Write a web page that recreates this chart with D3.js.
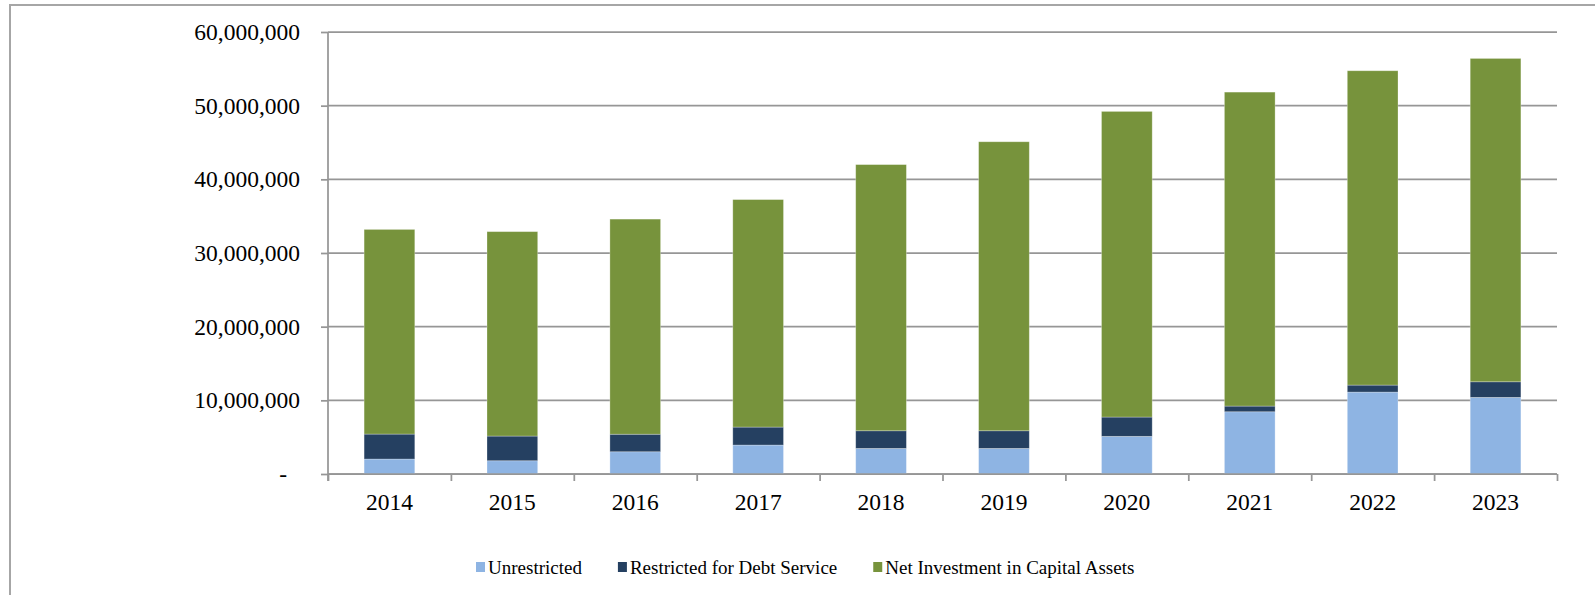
<!DOCTYPE html>
<html>
<head>
<meta charset="utf-8">
<script src="https://cdn.jsdelivr.net/npm/d3@7/dist/d3.min.js"></script>
<style>
  html, body { margin: 0; padding: 0; background: #ffffff; }
  svg { display: block; }
  text { font-family: "Liberation Serif", "Times New Roman", serif; fill: #000; }
</style>
</head>
<body>
<svg id="chart" width="1595" height="595"></svg>
<script>
// ---- data ----
const years = ["2014","2015","2016","2017","2018","2019","2020","2021","2022","2023"];
const unrestricted = [2030000, 1800000, 3020000, 3930000, 3470000, 3470000, 5110000, 8450000, 11120000, 10400000];
const restrictedDebt = [3390000, 3350000, 2380000, 2440000, 2400000, 2400000, 2620000, 770000, 950000, 2120000];
const netInvestment = [27780000, 27750000, 29200000, 30880000, 36130000, 39230000, 41490000, 42620000, 42670000, 43890000];
const seriesNames = ["Unrestricted", "Restricted for Debt Service", "Net Investment in Capital Assets"];
const seriesColors = ["#8EB4E3", "#254061", "#77933C"];
const yTicks = [0, 10000000, 20000000, 30000000, 40000000, 50000000, 60000000];

// ---- layout ----
const svg = d3.select("#chart");
const L = 328, R = 1557, T = 32, B = 474;

// outer frame (only top and left visible)
svg.append("rect").attr("x", 10).attr("y", 5).attr("width", 1620).attr("height", 640)
  .attr("fill", "none").attr("stroke", "#a6a6a6").attr("stroke-width", 2);

const y = d3.scaleLinear().domain([0, 60000000]).range([B, T]);
const x = d3.scaleBand().domain(years).range([L, R]).paddingInner(0.5875).paddingOuter(0.29375);
const xb = d3.scaleLinear().domain([0, years.length]).range([L, R]);

// gridlines
svg.append("g").selectAll("line").data(yTicks).join("line")
  .attr("x1", L).attr("x2", R)
  .attr("y1", d => y(d)).attr("y2", d => y(d))
  .attr("stroke", "#969696").attr("stroke-width", 1.75);

// stacked bars
const table = years.map((yr, i) => ({ year: yr, s0: unrestricted[i], s1: restrictedDebt[i], s2: netInvestment[i] }));
const stack = d3.stack().keys(["s0", "s1", "s2"])(table);
svg.append("g").selectAll("g").data(stack).join("g")
  .attr("fill", (d, i) => seriesColors[i])
  .selectAll("rect").data(d => d).join("rect")
  .attr("x", d => x(d.data.year))
  .attr("width", x.bandwidth())
  .attr("y", d => y(d[1]))
  .attr("height", d => y(d[0]) - y(d[1]))
  .attr("stroke", "#ffffff").attr("stroke-opacity", 0.35).attr("stroke-width", 0.8);

// y axis
const yAxis = d3.axisLeft(y).tickValues(yTicks).tickSize(7).tickPadding(21)
  .tickFormat(d => d === 0 ? "-" : d3.format(",")(d));
const gy = svg.append("g").attr("transform", `translate(${L},0)`).call(yAxis);
gy.select(".domain").remove();
gy.selectAll(".tick line").attr("stroke", "#969696").attr("stroke-width", 1.75);
gy.selectAll(".tick text").style("font-size", "23.5px").style("font-family", "'Liberation Serif', 'Times New Roman', serif").attr("fill", "#000");
gy.selectAll(".tick").filter(d => d === 0).select("text").attr("dx", -13);
svg.append("line").attr("x1", L).attr("x2", L).attr("y1", T).attr("y2", B + 7)
  .attr("stroke", "#969696").attr("stroke-width", 1.75);

// x axis: boundary ticks
const gxb = svg.append("g").attr("transform", `translate(0,${B})`)
  .call(d3.axisBottom(xb).tickValues(d3.range(0, years.length + 1)).tickSize(7).tickFormat(""));
gxb.select(".domain").remove();
gxb.selectAll(".tick line").attr("stroke", "#969696").attr("stroke-width", 1.75);
svg.append("line").attr("x1", L).attr("x2", R).attr("y1", B).attr("y2", B)
  .attr("stroke", "#969696").attr("stroke-width", 1.75);

// x axis labels
const gx = svg.append("g").attr("transform", `translate(0,${B})`)
  .call(d3.axisBottom(x).tickSize(0).tickPadding(19.3));
gx.select(".domain").remove();
gx.selectAll(".tick text").style("font-size", "23.5px").style("font-family", "'Liberation Serif', 'Times New Roman', serif").attr("fill", "#000");

// legend
const lg = svg.append("g");
let lx = 476;
seriesNames.forEach((name, i) => {
  lg.append("rect").attr("x", lx).attr("y", 562).attr("width", 9).attr("height", 10).attr("fill", seriesColors[i]);
  const t = lg.append("text").attr("x", lx + 12).attr("y", 567).attr("dy", "0.35em")
    .style("font-size", "19px").text(name);
  const w = t.node().getComputedTextLength();
  lx = lx + 12 + w + 36;
});
</script>
</body>
</html>
